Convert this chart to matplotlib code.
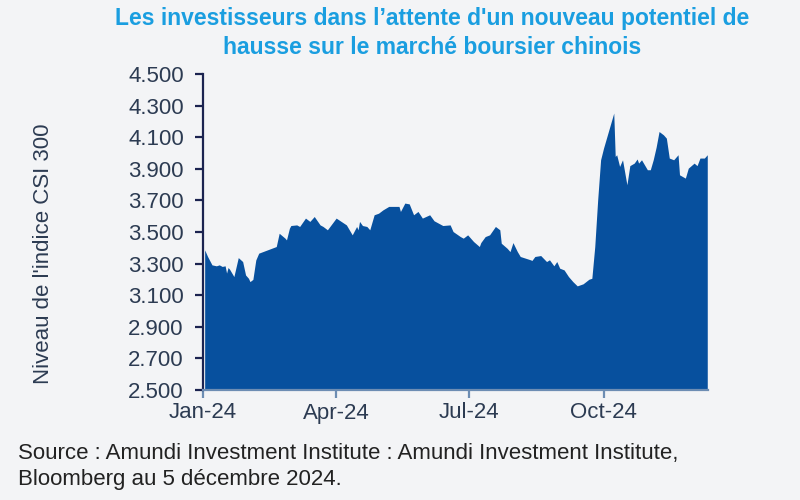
import pandas as pd
import matplotlib
matplotlib.use("Agg")
import matplotlib.pyplot as plt
import matplotlib.dates as mdates
from matplotlib.ticker import FuncFormatter

# CSI 300 level (days counted from 1 Jan 2024)
days = [1, 3, 6, 9, 11, 13, 15, 16, 17, 18, 21, 24, 27, 29, 31, 32, 34, 36, 38, 50,
        52, 56, 57, 59, 60, 64, 66, 70, 73, 76, 80, 82, 85, 91, 98, 102, 105, 106, 107, 109,
        112, 114, 117, 120, 123, 127, 130, 134, 135, 138, 141, 144, 147, 150, 155, 158, 164, 169, 171, 176,
        178, 181, 185, 189, 190, 193, 196, 200, 203, 204, 208, 210, 212, 215, 217, 224, 225, 227, 231, 235,
        237, 240, 242, 244, 247, 250, 253, 256, 260, 264, 266, 268, 270, 272, 274, 277, 281, 282, 283, 285,
        287, 290, 292, 295, 297, 298, 300, 304, 306, 308, 310, 312, 315, 317, 319, 322, 325, 326, 330, 332,
        336, 338, 340, 343, 345]
csi300 = [3387, 3345, 3292, 3286, 3292, 3282, 3286, 3240, 3275, 3265, 3218, 3338, 3313, 3228, 3207, 3186, 3200, 3323, 3366, 3408,
          3492, 3461, 3450, 3524, 3541, 3545, 3535, 3588, 3567, 3598, 3545, 3535, 3514, 3588, 3545, 3482, 3535, 3514, 3567, 3541,
          3535, 3514, 3609, 3619, 3640, 3662, 3662, 3662, 3630, 3683, 3678, 3609, 3630, 3588, 3609, 3571, 3541, 3545, 3503, 3471,
          3461, 3482, 3440, 3408, 3433, 3471, 3482, 3535, 3514, 3429, 3397, 3376, 3433, 3376, 3345, 3324, 3320, 3345, 3351, 3313,
          3324, 3286, 3313, 3271, 3260, 3218, 3186, 3159, 3172, 3201, 3207, 3408, 3704, 3957, 4031, 4126, 4253, 3978, 3989, 3915,
          3957, 3799, 3920, 3936, 3962, 3936, 3957, 3894, 3894, 3957, 4037, 4136, 4115, 4094, 3968, 3957, 3989, 3862, 3841, 3904,
          3936, 3920, 3968, 3968, 3989]

title = "Les investisseurs dans l’attente d'un nouveau potentiel de\nhausse sur le marché boursier chinois"
ylabel = "Niveau de l'indice CSI 300"
source = "Source : Amundi Investment Institute : Amundi Investment Institute,\nBloomberg au 5 décembre 2024."
yticks = [2500, 2700, 2900, 3100, 3300, 3500, 3700, 3900, 4100, 4300, 4500]
xticks = ["2024-01-01", "2024-04-01", "2024-07-01", "2024-10-01"]

start = pd.Timestamp("2024-01-01")
dates = start + pd.to_timedelta(days, unit="D")

bg = "#f3f4f6"
plt.rcParams["font.family"] = ["Liberation Sans", "DejaVu Sans"]

fig = plt.figure(figsize=(8, 5), dpi=100, facecolor=bg)
ax = fig.add_axes([0.254, 0.22, 0.631, 0.632])
ax.set_facecolor(bg)

ax.fill_between(dates, 2500, csi300, color="#07509e", linewidth=0)

ax.set_ylim(2500, 4500)
ax.set_yticks(yticks)
ax.yaxis.set_major_formatter(FuncFormatter(lambda v, p: f"{v:,.0f}".replace(",", ".")))
ax.set_xlim(start, start + pd.Timedelta(days=345.5))
ax.set_xticks(pd.to_datetime(xticks))
ax.xaxis.set_major_formatter(mdates.DateFormatter("%b-%y"))

for s in ["top", "right"]:
    ax.spines[s].set_visible(False)
ax.spines["left"].set_color("#1b2350")
ax.spines["left"].set_linewidth(1.6)
ax.spines["bottom"].set_color("#6d8db3")
ax.spines["bottom"].set_linewidth(1.6)
ax.tick_params(axis="y", colors="#1b2350", labelcolor="#2c3b52", labelsize=16, length=6, width=1.6, pad=8)
ax.tick_params(axis="x", colors="#6d8db3", labelcolor="#2c3b52", labelsize=16, length=6, width=1.6, pad=3)

ax.set_ylabel(ylabel, fontsize=16, color="#2c3b52")
ax.yaxis.set_label_coords(-0.295, 0.43)

fig.text(0.54, 0.985, title, ha="center", va="top", fontsize=16.5, fontweight="bold",
         color="#1a9ee0", linespacing=1.3)
fig.text(0.022, 0.114, source, ha="left", va="top", fontsize=16, color="#222222", linespacing=1.3)

fig.savefig("out.png", dpi=100, facecolor=bg)
